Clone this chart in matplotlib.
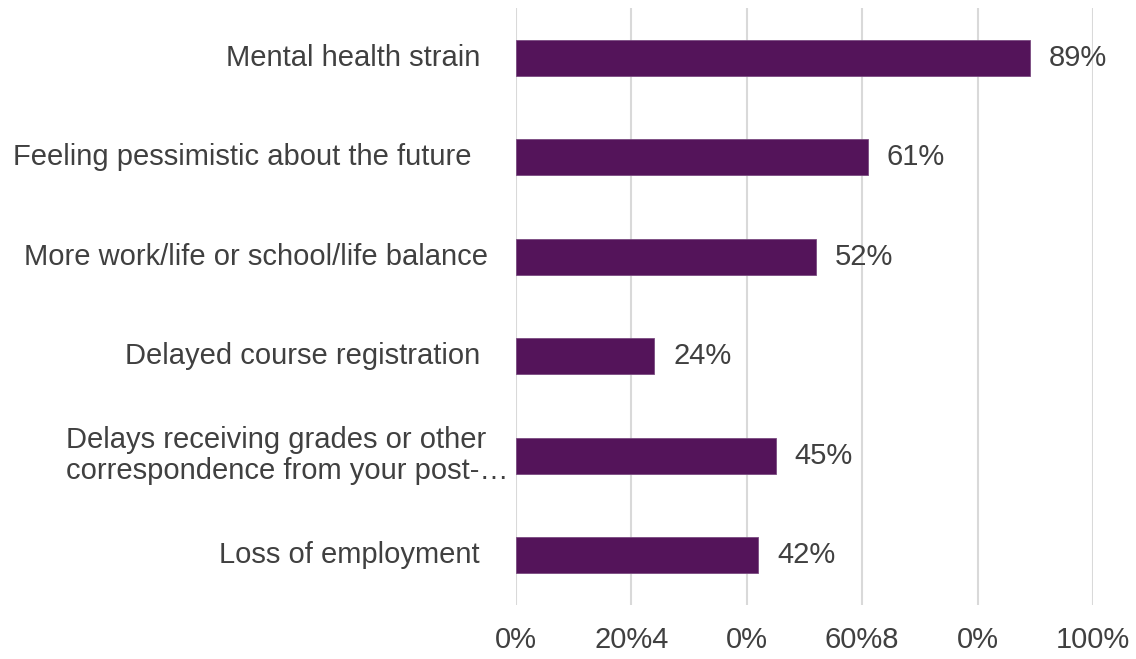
import matplotlib
matplotlib.use('Agg')
import matplotlib.pyplot as plt
import matplotlib.transforms as mtransforms

plt.rcParams['font.family'] = ['Liberation Sans', 'DejaVu Sans']

# data, top to bottom as in the picture
categories = ['Mental health strain ',
              'Feeling pessimistic about the future  ',
              'More work/life or school/life balance',
              'Delayed course registration ',
              'Delays receiving grades or other\ncorrespondence from your post-\u2026',
              'Loss of employment ']
values = [89, 61, 52, 24, 45, 42]
value_labels = ['89%', '61%', '52%', '24%', '45%', '42%']
x_ticks = [0, 20, 40, 60, 80, 100]
x_tick_labels = ['0%', '20%4', '0%', '60%8', '0%', '100%']

bar_color = '#54145A'
text_color = '#404040'
grid_color = '#D9D9D9'

fig = plt.figure(figsize=(11.36, 6.59), dpi=100)
ax = fig.add_axes([516 / 1136, 54 / 659, 577 / 1136, 597 / 659])

ypos = list(range(len(categories)))
ax.barh(ypos, values, height=0.36, color=bar_color, edgecolor='#7A4A80', linewidth=0.6, zorder=3)
ax.set_ylim(len(categories) - 0.5, -0.5)
ax.set_xlim(0, 100)

ax.set_xticks(x_ticks)
ax.set_xticklabels(x_tick_labels, fontsize=21, color=text_color)
ax.tick_params(axis='x', length=0, pad=15)
ax.set_yticks([])
ax.grid(axis='x', color=grid_color, linewidth=1.5, zorder=0)
for s in ax.spines.values():
    s.set_visible(False)

# category labels, right aligned left of the axis
for i, lab in enumerate(categories):
    if '\n' in lab:
        off = mtransforms.offset_copy(ax.get_yaxis_transform(), fig=fig, x=-8, y=0, units='dots')
        ax.text(0, i, lab, transform=off, ha='right', va='center', multialignment='left',
                fontsize=21, color=text_color, linespacing=1.12)
    else:
        off = mtransforms.offset_copy(ax.get_yaxis_transform(), fig=fig, x=-28, y=0, units='dots')
        ax.text(0, i, lab, transform=off, ha='right', va='center',
                fontsize=21, color=text_color)

# value labels
for i, (v, t) in enumerate(zip(values, value_labels)):
    ax.annotate(t, (v, i), xytext=(13.5, 0), textcoords='offset points',
                ha='left', va='center', fontsize=21, color=text_color, annotation_clip=False)

plt.savefig('out.png', dpi=100)
